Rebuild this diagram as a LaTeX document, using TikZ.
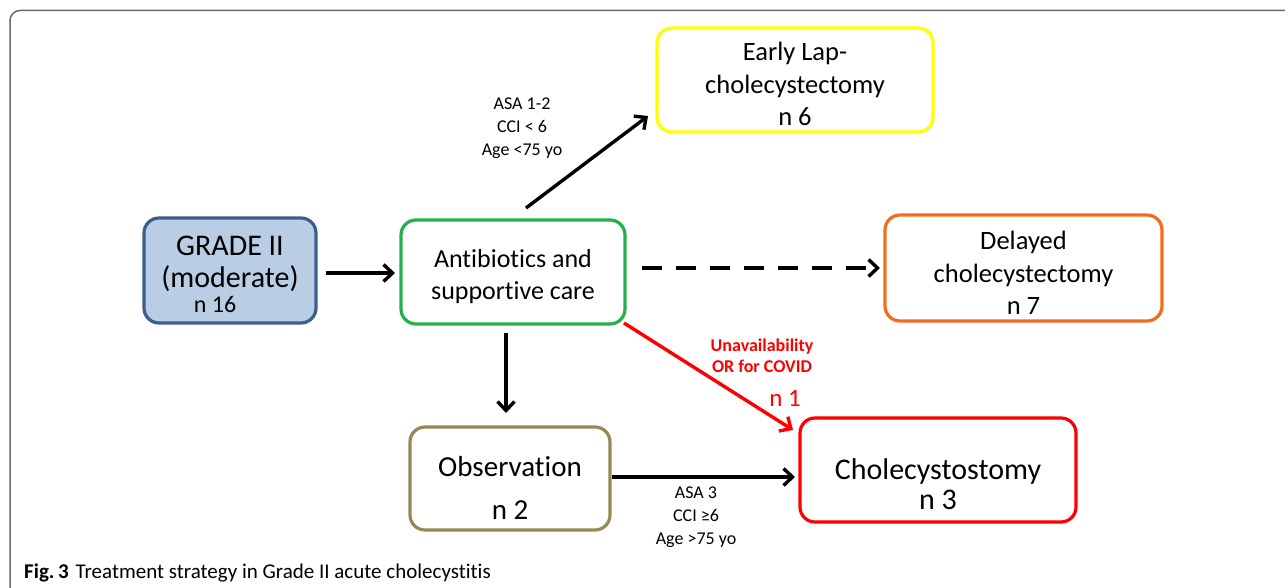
\documentclass[tikz,border=0pt]{standalone}
\usepackage{fontspec}
\setmainfont{Carlito}[Ligatures=NoCommon]
\usetikzlibrary{arrows.meta}
\definecolor{gbord}{HTML}{3A5F8C}
\definecolor{gfill}{HTML}{B9CDE5}
\definecolor{green1}{HTML}{22B14C}
\definecolor{yel}{HTML}{FFFF00}
\definecolor{orng}{HTML}{F26B21}
\definecolor{olive}{HTML}{948A54}
\definecolor{red1}{HTML}{FF0000}
\definecolor{frame}{HTML}{6A6A6A}
\tikzset{
  box/.style={draw, line width=3.2pt, rounded corners=15pt, inner sep=0pt},
  btxt/.style={align=center, inner sep=0pt},
  arr/.style={line width=3.4pt, -{Straight Barb[length=9pt,width=17pt]}},
  lbl/.style={align=center, font=\fontsize{18}{23}\selectfont, inner sep=0pt},
}
\begin{document}
\begin{tikzpicture}[x=1pt,y=-1pt]
\useasboundingbox (0,0) rectangle (1285,588);
% frame
\draw[frame, line width=1.5pt, rounded corners=10pt] (10,600) -- (10,10.5) -- (1300,10.5);

% boxes
\node[box, draw=gbord, fill=gfill, minimum width=172pt, minimum height=105pt] (grade) at (230,270.5) {};
\node[btxt, font=\fontsize{30}{32}\selectfont] (gradet) at (230,264) {GRADE II\\(moderate)};
\node[btxt, font=\fontsize{24}{25}\selectfont] (gradn) at (215,304) {n 16};

\node[box, draw=green1, minimum width=224pt, minimum height=104pt] (anti) at (513,272) {};
\node[btxt, font=\fontsize{26}{31.5}\selectfont] (antit) at (513,276.5) {Antibiotics and\\supportive care};

\node[box, draw=yel, minimum width=276pt, minimum height=104pt] (early) at (795,80) {};
\node[btxt, font=\fontsize{26.5}{32.5}\selectfont] (earlyt) at (795,84) {Early Lap-\\cholecystectomy\\n 6};

\node[box, draw=orng, minimum width=277pt, minimum height=106pt] (delay) at (1023.5,268) {};
\node[btxt, font=\fontsize{26.5}{32.5}\selectfont] (delayt) at (1023.5,273) {Delayed\\cholecystectomy\\n 7};

\node[box, draw=olive, minimum width=200pt, minimum height=103pt] (obs) at (510,478.5) {};
\node[btxt, font=\fontsize{29}{43}\selectfont] (obst) at (510,488) {Observation\\n 2};

\node[box, draw=red1, minimum width=276pt, minimum height=104pt] (chole) at (938,470) {};
\node[btxt, font=\fontsize{30}{29.5}\selectfont] (cholet) at (938,484) {Cholecystostomy\\n 3};

% coordinates for free ends
\coordinate (a1s) at (526,208);
\coordinate (a1e) at (648,116);
\coordinate (dds) at (642,268);
\coordinate (dde) at (880,268);
\coordinate (vs) at (506,333);
\coordinate (ve) at (506,413);
\coordinate (rs) at (624,323);
\coordinate (re) at (793,430);
\coordinate (gs) at (326,273);
\coordinate (ge) at (395,273);
\coordinate (os) at (612,477);
\coordinate (oe) at (795,477);

% arrows
\draw[arr] (gs) -- (ge);
\draw[arr] (a1s) -- (a1e);
\draw[arr, dash pattern=on 20pt off 14pt] (dds) -- (dde);
\draw[arr] (vs) -- (ve);
\draw[arr, red1] (rs) -- (re);
\draw[arr] (os) -- (oe);

% labels
\node[lbl] (l1) at (522,128) {ASA 1-2\\CCI < 6\\Age <75 yo};
\node[lbl, text=red1, font=\fontsize{18}{21}\bfseries] (l2) at (762,356) {Unavailability\\OR for COVID};
\node[text=red1, font=\fontsize{25}{26}\selectfont, inner sep=0pt] (l3) at (785,398) {n 1};
\node[lbl] (l4) at (696,517) {ASA 3\\CCI ≥6\\Age >75 yo};

% caption
\node[anchor=base west, inner sep=0pt, font=\fontsize{21}{23}\selectfont] (cap) at (24,578)
  {\textbf{Fig.\,3}\hspace{7pt}Treatment strategy in Grade II acute cholecystitis};
\end{tikzpicture}
\end{document}
